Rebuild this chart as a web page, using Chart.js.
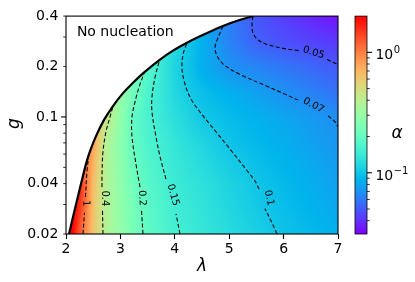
<!DOCTYPE html>
<html>
<head>
<meta charset="utf-8">
<script src="https://cdn.jsdelivr.net/npm/chart.js@4.4.0/dist/chart.umd.min.js"></script>
<style>
  html, body { margin: 0; padding: 0; background: #fff; }
  canvas { display: block; }
</style>
</head>
<body>
<canvas id="myChart" width="415" height="282"></canvas>
<script>
// alpha(lambda, g) on a coarse grid (rows = g, columns = lambda)
const lambdaGrid = [2.0, 2.25, 2.5, 2.75, 3.0, 3.25, 3.5, 4.0, 4.5, 5.0, 5.5, 6.0, 6.5, 7.0];
const gGrid = [0.02, 0.03, 0.04, 0.055, 0.07, 0.1, 0.14, 0.2, 0.28, 0.4];
const alphaGrid = [
  [3.0, 1.24, 0.625, 0.374, 0.296, 0.233, 0.193, 0.156, 0.137, 0.122, 0.109, 0.098, 0.0915, 0.085],
  [2.8, 1.56, 0.65, 0.37, 0.288, 0.225, 0.188, 0.149, 0.132, 0.116, 0.103, 0.094, 0.0868, 0.080],
  [2.5, 1.7, 0.66, 0.365, 0.284, 0.221, 0.183, 0.1445, 0.128, 0.113, 0.100, 0.0916, 0.084, 0.077],
  [2.0, 1.4, 0.727, 0.369, 0.277, 0.207, 0.174, 0.139, 0.121, 0.105, 0.0948, 0.0873, 0.0804, 0.074],
  [1.8, 1.2, 0.81, 0.375, 0.27, 0.197, 0.168, 0.135, 0.115, 0.0987, 0.091, 0.084, 0.0775, 0.0715],
  [1.5, 1.0, 0.7, 0.45, 0.288, 0.194, 0.161, 0.126, 0.102, 0.093, 0.086, 0.0796, 0.0736, 0.0685],
  [1.2, 0.9, 0.6, 0.45, 0.3, 0.221, 0.165, 0.117, 0.095, 0.0855, 0.0769, 0.0694, 0.0635, 0.058],
  [1.0, 0.75, 0.5, 0.38, 0.28, 0.22, 0.18, 0.113, 0.0851, 0.0694, 0.064, 0.0589, 0.0543, 0.050],
  [0.8, 0.6, 0.42, 0.32, 0.24, 0.19, 0.16, 0.12, 0.086, 0.0638, 0.0523, 0.0475, 0.0446, 0.0418],
  [0.6, 0.5, 0.35, 0.27, 0.2, 0.16, 0.13, 0.1, 0.08, 0.062, 0.049, 0.043, 0.038, 0.034]
];

// "no nucleation" boundary
const boundaryLambda = [2.055, 2.147, 2.257, 2.381, 2.460, 2.564, 2.699, 2.864, 3.048, 3.232, 3.415, 3.728, 3.967, 4.224, 4.463, 4.886, 5.162, 5.437];
const boundaryG = [0.02, 0.0268, 0.0376, 0.0543, 0.0648, 0.0784, 0.0960, 0.1162, 0.1387, 0.1599, 0.1819, 0.2200, 0.2487, 0.2772, 0.3029, 0.3492, 0.3763, 0.4];

// dashed contours (null g = break for the inline label)
const contourLevels = ['1', '0.4', '0.2', '0.15', '0.1', '0.07', '0.05'];
const contourLambda = [
  [2.3125, 2.340, 2.368, 2.358, 2.386, 2.423],
  [2.680, 2.671, 2.717, 2.662, 2.662, 2.680, 2.735, 2.809, 2.864],
  [3.415, 3.388, 3.397, 3.360, 3.287, 3.213, 3.213, 3.268, 3.342, 3.440],
  [4.096, 4.022, 3.967, 3.838, 3.728, 3.654, 3.581, 3.581, 3.636, 3.728],
  [5.879, 5.768, 5.658, 5.732, 5.548, 5.474, 5.309, 5.051, 4.757, 4.463, 4.298, 4.188, 4.132, 4.151, 4.224],
  [4.886, 4.794, 4.739, 4.794, 4.923, 5.199, 5.695, 6.026, 6.265, 6.55, 6.816, 6.945, 7.0],
  [5.437, 5.419, 5.437, 5.529, 5.713, 6.026, 6.283, 6.55, 6.798, 7.0]
];
const contourG = [
  [0.02, 0.0268, null, 0.0333, 0.0474, 0.0606],
  [0.02, 0.0275, null, 0.0381, 0.0455, 0.0622, 0.0816, 0.100, 0.1162],
  [0.02, 0.0275, null, 0.0381, 0.0521, 0.0762, 0.100, 0.1227, 0.1504, 0.1840],
  [0.02, 0.0264, null, 0.0425, 0.0581, 0.0762, 0.1071, 0.1313, 0.1723, 0.2230],
  [0.02, 0.0240, 0.0283, null, 0.0371, 0.0414, 0.0487, 0.0622, 0.0816, 0.1071, 0.1278, 0.1566, 0.1947, 0.2355, 0.2772],
  [0.3492, 0.2967, 0.2590, 0.2261, 0.2028, 0.1794, 0.1525, 0.1368, 0.1260, null, 0.1014, 0.0935, 0.0874],
  [0.4, 0.354, 0.3175, 0.2887, 0.2698, 0.2555, 0.2487, null, 0.2200, 0.2056]
];
const labelLambda = [2.368, 2.717, 3.397, 3.967, 5.732, 6.55, 6.55];
const labelG = [0.0305, 0.0326, 0.0328, 0.0342, 0.0328, 0.117, 0.242];
const labelAngle = [88, 90, 87, 74, 78, 28, 18];

// axes
const lambdaTicks = [2, 3, 4, 5, 6, 7];
const gTicks = [0.02, 0.04, 0.1, 0.2, 0.4];
const gTickLabels = ['0.02', '0.04', '0.1', '0.2', '0.4'];
const gMajorTicks = [0.1];
const gMinorTicks = [0.03, 0.05, 0.06, 0.07, 0.08, 0.09, 0.3];

// colour bar
const cbarMin = 0.031, cbarMax = 2.0;
const cbarTicks = [0.1, 1];
const cbarTickLabels = [['10', '\u22121'], ['10', '0']];
const cbarMinorTicks = [0.04, 0.05, 0.06, 0.07, 0.08, 0.09, 0.2, 0.3, 0.4, 0.5, 0.6, 0.7, 0.8, 0.9];

const FONT = 'DejaVu Sans';

function rainbow(t) {
  t = Math.min(1, Math.max(0, t));
  const r = Math.min(1, Math.abs(2 * t - 0.5));
  const g = Math.sin(Math.PI * t);
  const b = Math.cos(Math.PI * t / 2);
  return [Math.round(r * 255), Math.round(Math.max(0, g) * 255), Math.round(Math.max(0, b) * 255)];
}
function colorPos(a) {
  return (Math.log10(a) - Math.log10(cbarMin)) / (Math.log10(cbarMax) - Math.log10(cbarMin));
}
function alphaAt(lam, g) {
  let i = 0;
  while (i < lambdaGrid.length - 2 && lam > lambdaGrid[i + 1]) i++;
  let j = 0;
  while (j < gGrid.length - 2 && g > gGrid[j + 1]) j++;
  const tx = Math.min(1, Math.max(0, (lam - lambdaGrid[i]) / (lambdaGrid[i + 1] - lambdaGrid[i])));
  const ty = Math.min(1, Math.max(0, Math.log(g / gGrid[j]) / Math.log(gGrid[j + 1] / gGrid[j])));
  const a00 = Math.log10(alphaGrid[j][i]), a01 = Math.log10(alphaGrid[j][i + 1]);
  const a10 = Math.log10(alphaGrid[j + 1][i]), a11 = Math.log10(alphaGrid[j + 1][i + 1]);
  const v = (1 - ty) * ((1 - tx) * a00 + tx * a01) + ty * ((1 - tx) * a10 + tx * a11);
  return Math.pow(10, v);
}

const heatmap = {
  id: 'heatmap',
  beforeDraw(chart) {
    const ctx = chart.ctx, xs = chart.scales.x, ys = chart.scales.y, a = chart.chartArea;
    const w = Math.round(a.right - a.left), h = Math.round(a.bottom - a.top);
    const off = document.createElement('canvas');
    off.width = w; off.height = h;
    const octx = off.getContext('2d');
    const img = octx.createImageData(w, h);
    for (let py = 0; py < h; py++) {
      const g = ys.getValueForPixel(a.top + py + 0.5);
      for (let px = 0; px < w; px++) {
        const lam = xs.getValueForPixel(a.left + px + 0.5);
        const c = lam >= boundaryLambda[0] ? rainbow(colorPos(alphaAt(lam, g))) : [255, 255, 255];
        const k = (py * w + px) * 4;
        img.data[k] = c[0]; img.data[k + 1] = c[1]; img.data[k + 2] = c[2]; img.data[k + 3] = 255;
      }
    }
    octx.putImageData(img, 0, 0);
    ctx.drawImage(off, a.left, a.top);
  },
  afterDatasetsDraw(chart) {
    const ctx = chart.ctx, xs = chart.scales.x, ys = chart.scales.y;
    ctx.save();
    ctx.fillStyle = '#000';
    ctx.font = '10px "' + FONT + '"';
    ctx.textAlign = 'center';
    ctx.textBaseline = 'middle';
    contourLevels.forEach((t, k) => {
      ctx.save();
      ctx.translate(xs.getPixelForValue(labelLambda[k]), ys.getPixelForValue(labelG[k]));
      ctx.rotate(labelAngle[k] * Math.PI / 180);
      ctx.fillText(t, 0, 0);
      ctx.restore();
    });
    ctx.restore();
  },
  afterDraw(chart) {
    const ctx = chart.ctx, xs = chart.scales.x, ys = chart.scales.y, cs = chart.scales.c, a = chart.chartArea;
    ctx.save();
    // frame
    ctx.strokeStyle = '#000';
    ctx.lineWidth = 1.1;
    ctx.strokeRect(a.left, a.top, a.right - a.left, a.bottom - a.top);
    // y ticks
    gTicks.concat(gMinorTicks).forEach(v => {
      const y = ys.getPixelForValue(v);
      const len = gMajorTicks.includes(v) ? 4.9 : 2.8;
      ctx.lineWidth = gMajorTicks.includes(v) ? 1.1 : 0.8;
      ctx.beginPath(); ctx.moveTo(a.left - len, y); ctx.lineTo(a.left, y); ctx.stroke();
    });

    // colour bar
    const x0 = a.right + 17, x1 = x0 + 12;
    for (let y = Math.floor(cs.top); y < cs.bottom; y++) {
      const c = rainbow(colorPos(cs.getValueForPixel(y + 0.5)));
      ctx.fillStyle = 'rgb(' + c.join(',') + ')';
      ctx.fillRect(x0, y, x1 - x0, 1);
    }
    ctx.lineWidth = 0.8;
    ctx.strokeRect(x0, cs.top, x1 - x0, cs.bottom - cs.top);
    cbarMinorTicks.forEach(v => {
      const y = cs.getPixelForValue(v);
      ctx.beginPath(); ctx.moveTo(x1, y); ctx.lineTo(x1 + 2.8, y); ctx.stroke();
    });
    ctx.lineWidth = 1.1;
    ctx.fillStyle = '#000';
    ctx.textAlign = 'left';
    ctx.textBaseline = 'alphabetic';
    cbarTicks.forEach((v, k) => {
      const y = cs.getPixelForValue(v);
      ctx.beginPath(); ctx.moveTo(x1, y); ctx.lineTo(x1 + 4.9, y); ctx.stroke();
      ctx.font = '14px "' + FONT + '"';
      const bx = x1 + 4.9 + 3.5;
      ctx.fillText(cbarTickLabels[k][0], bx, y + 7);
      const bw = ctx.measureText(cbarTickLabels[k][0]).width;
      ctx.font = '10px "' + FONT + '"';
      ctx.fillText(cbarTickLabels[k][1], bx + bw + 0.5, y + 1);
    });

    // texts
    ctx.font = '14px "' + FONT + '"';
    ctx.fillText('No nucleation', xs.getPixelForValue(2.2), ys.getPixelForValue(0.303));
    ctx.font = 'italic 17px "' + FONT + '"';
    ctx.textAlign = 'center';
    ctx.fillText('\u03bb', (a.left + a.right) / 2, 270.5);
    ctx.fillText('\u03b1', x1 + 30, (cs.top + cs.bottom) / 2 + 13);
    ctx.translate(19.3, (a.top + a.bottom) / 2 - 1.5);
    ctx.rotate(-Math.PI / 2);
    ctx.fillText('g', 0, 0);
    ctx.restore();
  }
};

const datasets = [{
  data: boundaryLambda.map((x, i) => ({ x: x, y: boundaryG[i] })),
  borderColor: '#000',
  borderWidth: 2.2,
  pointRadius: 0,
  cubicInterpolationMode: 'monotone',
  fill: 'end',
  backgroundColor: '#fff'
}];
contourLevels.forEach((lvl, k) => {
  datasets.push({
    label: lvl,
    data: contourLambda[k].map((x, i) => ({ x: x, y: contourG[k][i] })),
    borderColor: '#000',
    borderWidth: 1.05,
    borderDash: [4, 2.4],
    pointRadius: 0,
    tension: 0.35,
    fill: false,
    spanGaps: false
  });
});

Chart.defaults.font.family = FONT;

new Chart(document.getElementById('myChart'), {
  type: 'line',
  data: { datasets: datasets },
  plugins: [heatmap],
  options: {
    responsive: false,
    animation: false,
    events: [],
    layout: { padding: { top: 13, left: 0, right: 0, bottom: 0 } },
    plugins: {
      legend: { display: false },
      tooltip: { enabled: false }
    },
    scales: {
      x: {
        type: 'linear',
        min: 2,
        max: 7,
        afterBuildTicks: s => { s.ticks = lambdaTicks.map(v => ({ value: v })); },
        afterFit: s => { s.height = 48; },
        ticks: { color: '#000', font: { size: 14 }, padding: 2, callback: v => String(v) },
        grid: { drawOnChartArea: false, drawTicks: true, tickLength: 5, tickColor: '#000', tickWidth: 1.1 },
        border: { display: false }
      },
      y: {
        type: 'logarithmic',
        min: 0.02,
        max: 0.4,
        afterBuildTicks: s => { s.ticks = gTicks.map(v => ({ value: v })); },
        afterFit: s => { s.width = 66; },
        ticks: { color: '#000', font: { size: 14 }, padding: 7.7, callback: (v, i) => gTickLabels[i] },
        grid: { display: false, drawTicks: false },
        border: { display: false }
      },
      c: {
        type: 'logarithmic',
        position: 'right',
        min: cbarMin,
        max: cbarMax,
        afterFit: s => { s.width = 77; },
        ticks: { display: false },
        grid: { display: false, drawTicks: false },
        border: { display: false }
      }
    }
  }
});
</script>
</body>
</html>
